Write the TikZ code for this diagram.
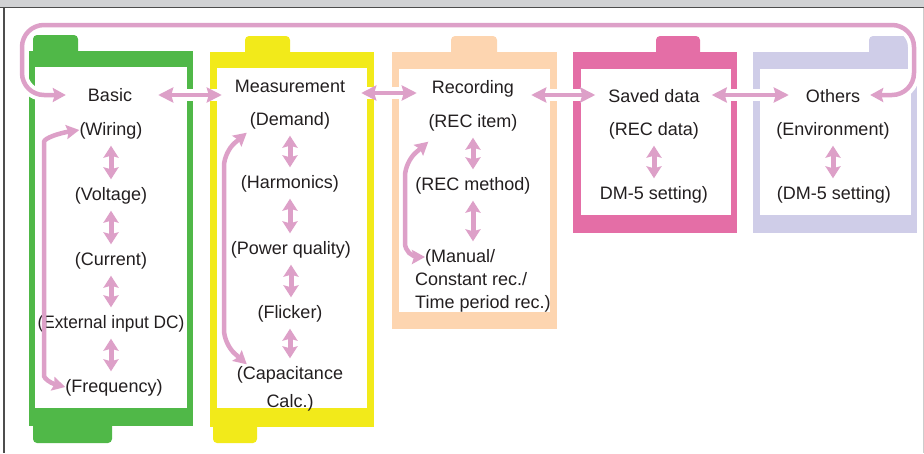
\documentclass[tikz,border=0pt]{standalone}
\usepackage{fontspec}
\setmainfont{Liberation Sans}
\usetikzlibrary{arrows.meta,calc}

\definecolor{basicgreen}{RGB}{80,184,72}
\definecolor{measyellow}{RGB}{242,234,26}
\definecolor{recpeach}{RGB}{253,213,176}
\definecolor{savedpink}{RGB}{228,110,166}
\definecolor{otherslav}{RGB}{207,205,232}
\definecolor{arrowpink}{RGB}{221,160,200}
\definecolor{headgray}{RGB}{209,210,212}
\definecolor{framegray}{RGB}{77,77,77}
\definecolor{txt}{RGB}{35,31,32}

\tikzset{
  lbl/.style={inner sep=0pt, text height=14pt, text depth=3pt, text=txt,
    font=\fontsize{18}{23}\selectfont},
  hdbl/.style={draw=arrowpink, line width=4.5pt,
    {Stealth[length=15pt,width=15pt,inset=2pt]}-{Stealth[length=15pt,width=15pt,inset=2pt]},
    preaction={draw=white, line width=12pt, arrows=-}},
  vdbl/.style={draw=arrowpink, line width=5pt, shorten <=7pt, shorten >=7pt,
    {Stealth[length=12pt,width=15pt,inset=2pt]}-{Stealth[length=12pt,width=15pt,inset=2pt]}},
  loopdbl/.style={draw=arrowpink, line width=4.5pt, rounded corners=14pt,
    {Stealth[length=13pt,width=14pt,inset=2pt]}-{Stealth[length=13pt,width=14pt,inset=2pt]}}
}

\begin{document}
\begin{tikzpicture}[x=1pt, y=-1pt]
        \useasboundingbox (0,0) rectangle (924,453);

        % --- frame ---
        \fill[headgray] (0,0) rectangle (924,7.5);
        \draw[framegray, line width=1.5pt] (0,7.5) -- (924,7.5);
        \draw[framegray, line width=1.5pt] (4,7.5) -- (4,453);
        \draw[black!20, line width=1pt] (923,7.5) -- (923,453);

        % --- folders ---
        \fill[basicgreen, rounded corners=4pt] (33,35) rectangle (78,58);
        \fill[basicgreen, rounded corners=4pt] (33,418) rectangle (112,443);
        \fill[basicgreen] (29,51) rectangle (193,426);
        \fill[white] (35,67) rectangle (187,408);

        \fill[measyellow, rounded corners=4pt] (245,36) rectangle (290,58);
        \fill[measyellow, rounded corners=4pt] (213,418) rectangle (257,443);
        \fill[measyellow] (210,52) rectangle (374,427);
        \fill[white] (217,68) rectangle (367,408);

        \fill[recpeach, rounded corners=4pt] (451,36) rectangle (497,58);
        \fill[recpeach] (392,52) rectangle (557,329);
        \fill[white] (399,69) rectangle (550,312);

        \fill[savedpink, rounded corners=4pt] (656,36) rectangle (700,58);
        \fill[savedpink] (573,52) rectangle (737,233);
        \fill[white] (581,69) rectangle (731,215);

        \fill[otherslav, rounded corners=4pt] (869,36) rectangle (910,58);
        \fill[otherslav] (753,52) rectangle (917,233);
        \fill[white] (760,69) rectangle (911,215);

        % --- labels ---
        \node[lbl] (basic) at (110,96) {Basic};
        \node[lbl] (wiring) at (111,130) {(Wiring)};
        \node[lbl] (voltage) at (111,195) {(Voltage)};
        \node[lbl] (current) at (111,260) {(Current)};
        \node[lbl, fill=white] (external) at (111,323) {\scalebox{0.96}[1]{(External input DC)}};
        \node[lbl] (frequency) at (114,387) {(Frequency)};

        \node[lbl] (measurement) at (290,87) {Measurement};
        \node[lbl] (demand) at (290,120) {(Demand)};
        \node[lbl] (harmonics) at (290,183) {(Harmonics)};
        \node[lbl] (power) at (291,249) {(Power quality)};
        \node[lbl] (flicker) at (290,313) {(Flicker)};
        \node[lbl] (capa) at (290,374) {(Capacitance};
        \node[lbl] (calc) at (290,402) {Calc.)};

        \node[lbl] (recording) at (473,88) {Recording};
        \node[lbl] (recitem) at (473,122) {(REC item)};
        \node[lbl] (recmethod) at (473,185) {(REC method)};
        \node[lbl, anchor=west] (manual) at (425,257) {(Manual/};
        \node[lbl, anchor=west] (constant) at (415,280) {Constant rec./};
        \node[lbl, anchor=west] (timeperiod) at (415,303) {Time period rec.)};

        \node[lbl] (saved) at (654,97) {Saved data};
        \node[lbl] (recdata) at (654,130) {(REC data)};
        \node[lbl] (dmsaved) at (654,194) {DM-5 setting)};

        \node[lbl] (others) at (833,97) {Others};
        \node[lbl] (environment) at (833,130) {(Environment)};
        \node[lbl] (dmothers) at (834,194) {(DM-5 setting)};

        % --- arrows between folders ---
        \draw[loopdbl, rounded corners=22pt, preaction={draw=white, line width=12pt, arrows=-}]
            ($(basic.west)+(-22,-1)$) -| (22,25) -| (914,95) -- ($(others.east)+(10,-2)$);
        \draw[hdbl] ($(basic.east)+(26,-1)$) -- ($(basic.east -| measurement.west)+(-13,-1)$);
        \draw[hdbl] ($(measurement.east)+(16,6)$) -- ($(recording.west)+(-15,5)$);
        \draw[hdbl] ($(saved.west -| recording.east)+(17,-2)$) -- ($(saved.west)+(-13,-2)$);
        \draw[hdbl] ($(saved.east)+(12,-2)$) -- ($(others.west)+(-17,-2)$);

        % --- arrows inside folders ---
        \draw[vdbl] (wiring.south) -- (wiring.south |- voltage.north);
        \draw[vdbl] (voltage.south) -- (voltage.south |- current.north);
        \draw[vdbl] (current.south) -- (current.south |- external.north);
        \draw[vdbl] (external.south) -- (external.south |- frequency.north);
        \draw[loopdbl] (wiring.west) .. controls (60,133) and (44,138) .. (44,156)
            -- (44,362) .. controls (44,378) and (50,383) .. (frequency.west);

        \draw[vdbl] (demand.south) -- (demand.south |- harmonics.north);
        \draw[vdbl] (harmonics.south) -- (harmonics.south |- power.north);
        \draw[vdbl] (power.south) -- (power.south |- flicker.north);
        \draw[vdbl] (flicker.south) -- (flicker.south |- capa.north);
        \draw[loopdbl] ($(demand.south west)+(-3,4)$) -- (224,152) -- (224,344) -- ($(capa.north west)+(10,-1)$);

        \draw[vdbl] (recitem.south) -- (recitem.south |- recmethod.north);
        \draw[vdbl] (recmethod.south) -- (recmethod.south |- manual.north);
        \draw[loopdbl] ($(recitem.south west)+(0,11)$) -- (405,162) |- (manual.west);

        \draw[vdbl] (recdata.south) -- (recdata.south |- dmsaved.north);
        \draw[vdbl] (environment.south) -- (environment.south |- dmothers.north);
    \end{tikzpicture}
\end{document}
